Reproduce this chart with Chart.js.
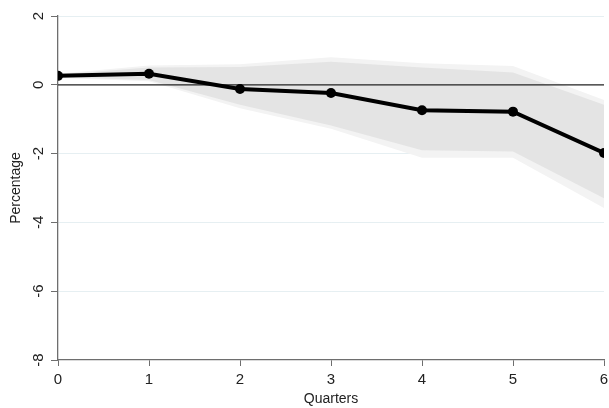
<!DOCTYPE html>
<html>
<head>
<meta charset="utf-8">
<script src="https://cdn.jsdelivr.net/npm/chart.js@4"></script>
<style>
  html, body { margin: 0; padding: 0; background: #ffffff; }
  #wrap { width: 609px; height: 408px; }
</style>
</head>
<body>
<div id="wrap"><canvas id="c" width="609" height="408"></canvas></div>
<script>
// Horizon in quarters
const quarters = [0, 1, 2, 3, 4, 5, 6];
// Point estimate of the response (percent)
const response = [0.26, 0.32, -0.12, -0.24, -0.74, -0.78, -1.98];
// Inner confidence band
const innerUpper = [0.30, 0.50, 0.52, 0.67, 0.50, 0.36, -0.58];
const innerLower = [0.22, 0.14, -0.58, -1.18, -1.90, -1.94, -3.30];
// Outer confidence band
const outerUpper = [0.32, 0.56, 0.60, 0.80, 0.63, 0.55, -0.44];
const outerLower = [0.20, 0.10, -0.68, -1.28, -2.12, -2.12, -3.58];
// Reference line at zero
const zeroLine = [0, 0, 0, 0, 0, 0, 0];
// Axis ticks
const yTicks = [2, 0, -2, -4, -6, -8];

const pts = arr => quarters.map((q, i) => ({ x: q, y: arr[i] }));
const band = { borderWidth: 0, pointRadius: 0, pointHoverRadius: 0, tension: 0 };

const family = "'Liberation Sans', Arial, sans-serif";
const tickFont = { family: family, size: 15 };
const titleFont = { family: family, size: 14 };

new Chart(document.getElementById('c'), {
  type: 'line',
  data: {
    datasets: [
      Object.assign({ data: pts(outerUpper), order: 5, fill: false }, band),
      Object.assign({ data: pts(outerLower), order: 4, fill: 0, backgroundColor: '#f3f3f3' }, band),
      Object.assign({ data: pts(innerUpper), order: 3, fill: false }, band),
      Object.assign({ data: pts(innerLower), order: 2, fill: 2, backgroundColor: '#e4e4e4' }, band),
      { data: pts(zeroLine), order: 1, borderColor: '#222222', borderWidth: 1.3,
        pointRadius: 0, fill: false },
      { data: pts(response), order: 0, borderColor: '#000000', borderWidth: 4,
        pointRadius: 5, pointBackgroundColor: '#000000', pointBorderWidth: 0,
        fill: false, tension: 0 }
    ]
  },
  options: {
    responsive: false,
    animation: false,
    events: [],
    layout: { padding: { left: 0, right: 0, top: 16, bottom: 0 } },
    plugins: { legend: { display: false }, tooltip: { enabled: false } },
    scales: {
      x: {
        type: 'linear',
        min: 0, max: 6,
        afterBuildTicks: s => { s.ticks = quarters.map(v => ({ value: v })); },
        grid: { drawOnChartArea: false, tickLength: 6, tickColor: '#6e6e6e' },
        border: { color: '#6e6e6e', width: 1.3 },
        ticks: { color: '#222', font: tickFont, padding: 5, maxRotation: 0 },
        title: { display: true, text: 'Quarters', color: '#222', font: titleFont, padding: { top: 2, bottom: 0 } },
        afterFit: s => { s.height = 48; s.paddingLeft = 0; s.paddingRight = 5; }
      },
      y: {
        min: -8, max: 2,
        afterBuildTicks: s => { s.ticks = yTicks.map(v => ({ value: v })); },
        grid: {
          color: ctx => (ctx.tick && (ctx.tick.value === 0 || ctx.tick.value === -8)) ? 'rgba(0,0,0,0)' : '#e6eff2',
          lineWidth: 1, tickLength: 7, tickColor: '#6e6e6e'
        },
        border: { color: '#6e6e6e', width: 1.3 },
        ticks: { color: '#222', font: tickFont, padding: 5, minRotation: 90, maxRotation: 90, crossAlign: 'center' },
        title: { display: true, text: 'Percentage', color: '#222', font: titleFont, padding: { top: 8, bottom: 0 } },
        afterFit: s => { s.width = 58; s.paddingTop = 0; s.paddingBottom = 0; }
      }
    }
  }
});
</script>
</body>
</html>
